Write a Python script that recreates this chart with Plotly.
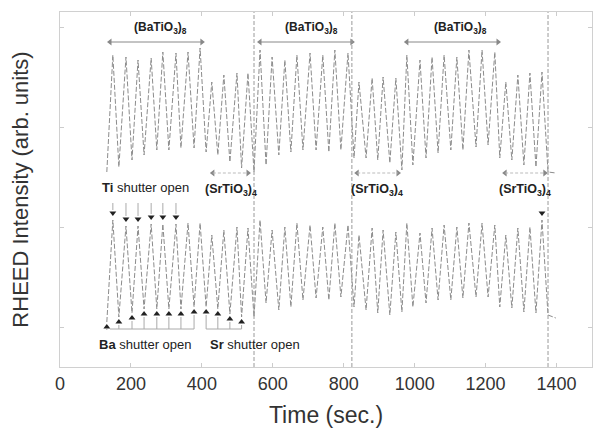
import plotly.graph_objects as go

# ---- data ----
# times of alternating troughs / peaks (s)
times = [132, 149, 166, 186, 203, 220, 237, 257, 273, 290, 307, 327, 341, 361, 378, 395,
         412, 428, 445, 462, 479, 499, 512, 530,
         547, 564, 581, 598, 617, 634, 651, 668, 685, 705, 722, 741, 758, 775, 792, 812,
         829, 843, 863, 880, 896, 911, 930, 947,
         964, 978, 995, 1015, 1032, 1049, 1066, 1083, 1102, 1119, 1136, 1153, 1173, 1190, 1207, 1226,
         1240, 1257, 1274, 1291, 1308, 1325, 1342, 1359,
         1376, 1398]

upper = [255, 372, 260, 370, 267, 367, 272, 369, 277, 375, 277, 374, 279, 375, 279, 379,
         275, 345, 272, 352, 265, 354, 259, 354,
         255, 377, 262, 370, 272, 367, 275, 372, 277, 374, 277, 372, 275, 377, 277, 374,
         269, 345, 269, 349, 267, 350, 264, 349,
         257, 372, 262, 367, 269, 370, 274, 372, 277, 370, 277, 377, 280, 377, 282, 375,
         269, 345, 267, 352, 262, 354, 260, 355,
         255, 254]

lower = [105, 207, 110, 201, 114, 201, 118, 203, 118, 203, 118, 203, 118, 204, 120, 204,
         120, 192, 118, 197, 113, 200, 110, 199,
         110, 207, 124, 197, 117, 200, 120, 204, 127, 202, 129, 200, 127, 204, 130, 202,
         120, 192, 117, 199, 114, 197, 112, 195,
         115, 204, 120, 194, 124, 199, 127, 202, 127, 200, 129, 204, 130, 204, 130, 202,
         120, 192, 119, 199, 115, 200, 114, 207,
         112, 109]

ti_open_idx = [1, 3, 5, 7, 9, 11, 71]
ba_open_idx = [0, 2, 4, 6, 8, 10, 12, 14]
sr_open_idx = [16, 18, 20, 22]

boundaries = [547, 823, 1376]

bato_label_t = [282, 708, 1128]
bato_start = [141, 564, 978]
bato_end = [400, 823, 1235]
srto_label_t = [482, 893, 1311]
srto_start = [431, 838, 1255]
srto_end = [530, 953, 1367]

x_ticks = [0, 200, 400, 600, 800, 1000, 1200, 1400]

FONT = "Arial, Liberation Sans, sans-serif"
LINE = "#8c8c8c"
INK = "#222222"
ARROW = "#888888"

fig = go.Figure()

fig.add_trace(go.Scatter(x=times, y=upper, mode="lines",
                         line=dict(color=LINE, width=1, dash="5px,2px"),
                         hoverinfo="skip", showlegend=False))
fig.add_trace(go.Scatter(x=times, y=lower, mode="lines",
                         line=dict(color=LINE, width=1, dash="5px,2px"),
                         hoverinfo="skip", showlegend=False))

# shutter markers
ti_x = [times[i] for i in ti_open_idx]
ti_y = [lower[i] + 7 for i in ti_open_idx]
fig.add_trace(go.Scatter(x=ti_x, y=ti_y, mode="markers",
                         marker=dict(symbol="triangle-down", size=6, color=INK),
                         hoverinfo="skip", showlegend=False))
bs_idx = ba_open_idx + sr_open_idx
bs_x = [times[i] for i in bs_idx]
bs_y = [lower[i] - 5 for i in bs_idx]
fig.add_trace(go.Scatter(x=bs_x, y=bs_y, mode="markers",
                         marker=dict(symbol="triangle-up", size=6, color=INK),
                         hoverinfo="skip", showlegend=False))

# double-headed span arrows: heads as markers
BATO_Y, SRTO_Y = 385, 254
fig.add_trace(go.Scatter(x=bato_start + srto_start,
                         y=[BATO_Y] * len(bato_start) + [SRTO_Y] * len(srto_start),
                         mode="markers", marker=dict(symbol="triangle-left", size=6, color=ARROW),
                         hoverinfo="skip", showlegend=False))
fig.add_trace(go.Scatter(x=bato_end + srto_end,
                         y=[BATO_Y] * len(bato_end) + [SRTO_Y] * len(srto_end),
                         mode="markers", marker=dict(symbol="triangle-right", size=6, color=ARROW),
                         hoverinfo="skip", showlegend=False))

shapes = []
for a, b in zip(bato_start, bato_end):
    shapes.append(dict(type="line", xref="x", yref="y", x0=a, x1=b, y0=BATO_Y, y1=BATO_Y,
                       line=dict(color=ARROW, width=1)))
for a, b in zip(srto_start, srto_end):
    shapes.append(dict(type="line", xref="x", yref="y", x0=a, x1=b, y0=SRTO_Y, y1=SRTO_Y,
                       line=dict(color="#bbbbbb", width=1, dash="3px,2px")))
# boundaries
for b in boundaries:
    shapes.append(dict(type="line", xref="x", yref="paper", x0=b, x1=b, y0=0, y1=1,
                       line=dict(color="#9a9a9a", width=1, dash="4px,2px")))
# Ti shutter lines (up to label)
for i in ti_open_idx[:6]:
    shapes.append(dict(type="line", xref="x", yref="y", x0=times[i], x1=times[i],
                       y0=lower[i] + 10, y1=224, line=dict(color="#aaaaaa", width=1)))
# Ba / Sr brackets
bracket_y = 98
for i in bs_idx:
    shapes.append(dict(type="line", xref="x", yref="y", x0=times[i], x1=times[i],
                       y0=lower[i] - 8, y1=bracket_y, line=dict(color="#aaaaaa", width=1)))
shapes.append(dict(type="line", xref="x", yref="y", x0=times[ba_open_idx[0]] + 9,
                   x1=times[ba_open_idx[-1]], y0=bracket_y, y1=bracket_y,
                   line=dict(color="#aaaaaa", width=1)))
shapes.append(dict(type="line", xref="x", yref="y", x0=times[sr_open_idx[0]],
                   x1=times[sr_open_idx[-1]], y0=bracket_y, y1=bracket_y,
                   line=dict(color="#aaaaaa", width=1)))

annotations = []
for t in bato_label_t:
    annotations.append(dict(x=t, y=399, xref="x", yref="y", showarrow=False,
                            text="<b>(BaTiO<sub>3</sub>)<sub>8</sub></b>",
                            font=dict(family=FONT, size=12, color=INK)))
for t in srto_label_t:
    annotations.append(dict(x=t, y=237, xref="x", yref="y", showarrow=False,
                            text="<b>(SrTiO<sub>3</sub>)<sub>4</sub></b>",
                            font=dict(family=FONT, size=12.5, color=INK)))
annotations.append(dict(x=242, y=240, xref="x", yref="y", showarrow=False,
                        text="<b>Ti</b> shutter open", font=dict(family=FONT, size=13, color=INK)))
annotations.append(dict(x=242, y=83, xref="x", yref="y", showarrow=False,
                        text="<b>Ba</b> shutter open", font=dict(family=FONT, size=13, color=INK)))
annotations.append(dict(x=550, y=83, xref="x", yref="y", showarrow=False,
                        text="<b>Sr</b> shutter open", font=dict(family=FONT, size=13, color=INK)))

fig.update_layout(
    width=597, height=428,
    margin=dict(l=60, r=5, t=12, b=61),
    paper_bgcolor="white", plot_bgcolor="white",
    font=dict(family=FONT, color="#333333"),
    shapes=shapes, annotations=annotations,
    xaxis=dict(range=[0, 1500], tickvals=x_ticks, ticks="inside", ticklen=4,
               tickcolor="#cccccc", showline=True, linecolor="#d0d0d0", mirror="ticks",
               showgrid=False, zeroline=False, tickfont=dict(size=18, color="#333333"),
               title=dict(text="Time (sec.)", font=dict(size=23, color="#333333"), standoff=14)),
    yaxis=dict(range=[60, 415], tickvals=[100, 200, 300, 400], ticks="inside", ticklen=4,
               tickcolor="#cccccc", showline=True, linecolor="#d0d0d0", mirror="ticks",
               showgrid=False, zeroline=False, showticklabels=False,
               title=dict(text="RHEED Intensity (arb. units)", font=dict(size=22, color="#333333"),
                          standoff=24)),
)

fig.write_html("out.html")
